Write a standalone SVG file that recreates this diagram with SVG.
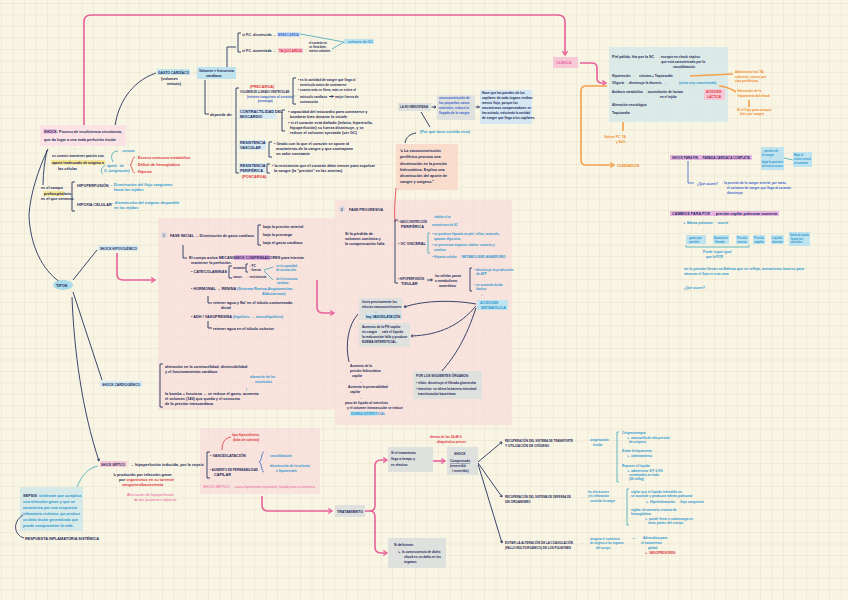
<svg xmlns="http://www.w3.org/2000/svg" width="848" height="600" viewBox="0 0 848 600">
<defs>
<pattern id="grid" width="11.5" height="11.5" patternUnits="userSpaceOnUse" x="2" y="4">
<path d="M11.5 0V11.5M0 11.5H11.5" fill="none" stroke="#e3dbc3" stroke-width="0.8"/>
</pattern>
<marker id="ap" viewBox="0 0 10 10" refX="7" refY="5" markerWidth="4" markerHeight="4" orient="auto"><path d="M1 1L7 5L1 9" fill="none" stroke="#e8609a" stroke-width="2"/></marker>
<marker id="ao" viewBox="0 0 10 10" refX="7" refY="5" markerWidth="4" markerHeight="4" orient="auto"><path d="M1 1L7 5L1 9" fill="none" stroke="#f4a04c" stroke-width="2"/></marker>
<marker id="an" viewBox="0 0 10 10" refX="7" refY="5" markerWidth="4" markerHeight="4" orient="auto"><path d="M1 1L7 5L1 9" fill="none" stroke="#25335f" stroke-width="2"/></marker>
<style>
text{font-family:"Liberation Sans",Arial,sans-serif;font-size:3.8px;font-weight:bold}
.n{fill:#1c2858}
.h{fill:#1c2858;font-size:4px}
.t{fill:#2c96cf}
.b{fill:#3a62c8}
.r{fill:#e0343c}
.p{fill:#e8609a;font-weight:normal}
.o{fill:#f08a24}
.s{font-size:3.2px}
.xs{font-size:2.8px}
.ln{fill:none;stroke:#25335f;stroke-width:0.9}
.lp{fill:none;stroke:#e8609a;stroke-width:1.6}
.lo{fill:none;stroke:#f4a04c;stroke-width:1.6}
.lt{fill:none;stroke:#3fa7b5;stroke-width:0.8}
.lr{fill:none;stroke:#e0343c;stroke-width:0.8}
.lb{fill:none;stroke:#3a62c8;stroke-width:0.8}
.hT{fill:#bfe4ef}
.hP{fill:#f7c9d6}
.hM{fill:#e3a6e0}
.hY{fill:#f5e594}
.gb{fill:#dfe1df}
.pk{fill:#f8dcdb;opacity:0.75}
.pe{fill:#f9dccc}
</style>
</defs>
<rect width="848" height="600" fill="#f9f5e4"/>
<rect width="848" height="600" fill="url(#grid)"/>

<!-- background regions -->
<rect class="pk" x="158" y="218" width="177" height="192"/>
<rect class="pk" x="335" y="200" width="177" height="225"/>
<rect class="pk" x="200" y="428" width="120" height="66"/>
<rect class="pe" x="396" y="144" width="62" height="46"/>
<rect x="609" y="47" width="119" height="75" fill="#d5e8e8" opacity="0.8"/>
<rect x="20" y="487" width="63" height="44" fill="#cfe7ea" opacity="0.85"/>

<g id="connectors">
<path class="lp" d="M84,128 L84,22 Q84,15 91,15 L558,15 Q565,15 565,22 L565,55" marker-end="url(#ap)"/>
<path class="lp" d="M580,63 L592,63 Q597,63 597,68 L597,78 Q597,83 602,83 L606,83" marker-end="url(#ap)"/>
<path class="lo" d="M607,86 L586,86 Q581,86 581,91 L581,160 Q581,165 586,165 L614,165" marker-end="url(#ao)"/>
<path class="lo" d="M623,122 L623,131" stroke-width="0.9"/>
<path class="lo" d="M690,76 L733,74" stroke-width="0.9"/>
<path class="lo" d="M719,86 C728,87 732,89 736,92" stroke-width="0.9"/>
<path class="lo" d="M749,100 L749,107" stroke-width="0.9"/>
<path class="ln" d="M115,126 C118,105 130,82 156,73"/>
<path class="ln" d="M48,149 C38,170 30,195 29,215 C30,245 42,270 60,282"/>
<path class="ln" d="M47,150 C45,160 43,172 43,185"/>
<path class="ln" d="M73,280 L97,250"/>
<path class="ln" d="M73,292 L102,380"/>
<path class="ln" d="M72,297 C74,350 82,410 99,461" marker-end="url(#an)"/>
<path class="lt" d="M77,487 C82,475 88,468 98,466" stroke-width="1"/>
<path class="ln" d="M23,515 C12,522 14,535 24,538"/>
<path class="lp" d="M117,253 L117,274 Q117,280 123,280 L155,280" marker-end="url(#ap)"/>
<path class="lp" d="M317,280 L317,307 Q317,313 323,313 L334,313" marker-end="url(#ap)"/>
<path class="lp" d="M262,496 L262,505 Q262,511 268,511 L332,511" marker-end="url(#ap)"/>
<path class="lp" d="M365,511 L370,511 Q375,511 375,505 L375,466 Q375,460 381,460 L387,460" marker-end="url(#ap)"/>
<path class="lp" d="M370,511 Q375,511 375,517 L375,547 Q375,553 381,553 L387,553" marker-end="url(#ap)"/>
<path class="lp" d="M433,461 L445,461" marker-end="url(#ap)"/>
<path class="ln" d="M478,462 L502,442" marker-end="url(#an)"/>
<path class="ln" d="M478,463 L502,497" marker-end="url(#an)"/>
<path class="ln" d="M478,464 L502,543" marker-end="url(#an)"/>
<path class="ln" d="M476,304 C455,300 425,300 404,307" marker-end="url(#an)"/>
<path class="ln" d="M476,306 C460,325 440,335 411,336" marker-end="url(#an)"/>
<path class="ln" d="M476,308 C466,338 456,355 441,372"/>
<path class="ln" d="M358,314 C348,325 345,345 349,362"/>
<path class="ln" d="M421,112 L430,127"/>
<path class="ln" d="M405,143 C406,137 410,134 416,133"/>
<path class="lr" d="M396,188 C395,200 394,212 395,222"/>
<path class="lt" d="M295,33 L344,42 M332,49 L344,42"/>
<path class="lb" d="M688,161 L688,183 L694,183"/>
<path class="lt" d="M784,158 L793,160"/>
<path class="ln" d="M431.5,107 L436,107" marker-end="url(#an)" stroke-width="0.6"/>
<path class="ln" d="M475.5,107 L479.5,107" marker-end="url(#an)" stroke-width="0.6"/>
<path class="ln" d="M427,280 L432.5,280" marker-end="url(#an)" stroke-width="0.6"/>
<path class="ln" d="M329,96.5 L333.5,96.5" marker-end="url(#an)" stroke-width="0.5"/>
</g>

<g id="shock">
<rect x="40" y="125" width="86" height="21" fill="#fbe2e4"/>
<rect class="hM" x="43" y="129" width="13" height="5" opacity="0.6"/>
<text class="n" x="44" y="133" textLength="78" lengthAdjust="spacingAndGlyphs">SHOCK: Proceso de insuficiencia circulatoria,</text>
<text class="n" x="44" y="141" textLength="72" lengthAdjust="spacingAndGlyphs">que da lugar a una mala perfusión tisular</text>
<text class="n" x="74" y="150">↓</text>
<text class="n" x="52" y="157" textLength="52" lengthAdjust="spacingAndGlyphs">es común mantener patrón con</text>
<rect class="hY" x="51" y="160" width="54" height="5"/>
<text class="n" x="52" y="164" textLength="52" lengthAdjust="spacingAndGlyphs">aporte inadecuado de oxígeno a</text>
<text class="n" x="58" y="170">las células</text>
<text class="t xs" x="120" y="152">↑ consumo</text>
<text class="t s" x="107" y="167">aporte ↓ de</text>
<text class="t s" x="104" y="172">O₂ (oxigenación)</text>
<path class="lt" d="M105,165 C101,168 100,172 103,174 M118,151 C112,151 110,156 113,162"/>
<path class="lr" d="M135,157 C132,157 132,165 130,165 C132,165 132,173 135,173"/>
<text class="r" x="138" y="159">Exceso consumo metabólico</text>
<text class="r" x="138" y="166">Déficit de hemoglobina</text>
<text class="r" x="138" y="173">Hipoxia</text>
</g>

<g id="campo">
<text class="n" x="41" y="189">es el campo</text>
<rect class="hY" x="43" y="191" width="21" height="5"/>
<text class="n" x="44" y="195">prehospitalario</text>
<text class="n" x="41" y="200">es el que veremos</text>
</g>

<g id="hipoperfusion">
<path class="ln" d="M75,182 L72,182 L72,211 L75,211"/>
<text class="n" x="77" y="187">HIPOPERFUSIÓN</text>
<text class="t" x="109" y="186">→ Disminución del flujo sanguíneo</text>
<text class="t" x="114" y="191">hacia los tejidos</text>
<text class="n" x="77" y="206">HIPOXIA CELULAR</text>
<text class="t" x="110" y="204">→ disminución del oxígeno disponible</text>
<text class="t" x="114" y="209">en los tejidos</text>
</g>

<g id="tipos">
<ellipse cx="63" cy="285" rx="10" ry="5" fill="#a9dbeb"/>
<text class="n" x="56" y="287">TIPOS</text>
</g>

<g id="hipovolemico">
<rect x="98" y="245" width="40" height="6" fill="#d7ebf3"/>
<text class="h" x="100" y="250" textLength="37" lengthAdjust="spacingAndGlyphs">SHOCK HIPOVOLÉMICO</text>
</g>

<g id="cardiogenico">
<rect x="100" y="381" width="42" height="6" fill="#d7ebf3"/>
<text class="h" x="102" y="386" textLength="38" lengthAdjust="spacingAndGlyphs">SHOCK CARDIOGÉNICO</text>
<path class="ln" d="M163,364 L160,364 L160,407 L163,407"/>
<text class="n" x="165" y="368">alteración en la contractilidad, distensibilidad</text>
<text class="n" x="165" y="373">y el funcionamiento cardíaco</text>
<text class="t s" x="250" y="378">alteración de los</text>
<text class="t s" x="255" y="383">ventrículos</text>
<text class="t" x="246" y="391">/</text>
<text class="n" x="165" y="395">la bomba + funciona → se reduce el gasto, aumenta</text>
<text class="n" x="165" y="400">el volumen (140) que queda y el consumo</text>
<text class="n" x="165" y="405">de la presión intracardíaca</text>
</g>

<g id="septico">
<rect class="hP" x="100" y="461" width="27" height="6"/>
<text class="h" x="101" y="466" textLength="24" lengthAdjust="spacingAndGlyphs">SHOCK SÉPTICO</text>
<text class="n" x="130" y="466" textLength="74" lengthAdjust="spacingAndGlyphs">→ hipoperfusión inducida, por la sepsis</text>
<text class="n" x="113" y="476">↳ producido por infección grave</text>
<text class="n" x="119" y="481">por <tspan class="r">organismos en su torrente</tspan></text>
<text class="r" x="122" y="486">sanguíneo/bacteriemia</text>
<text class="p" x="131" y="491">↓</text>
<text class="p" x="127" y="496">Afectación de hipoperfusión</text>
<text class="p" x="134" y="501">de los pacientes sépticos</text>
</g>

<g id="sepsis">
<text class="t" x="23" y="497"><tspan class="n">SEPSIS</tspan>: síndrome que complica</text>
<text class="t" x="23" y="503">una infección grave y que se</text>
<text class="t" x="23" y="509">caracteriza por una respuesta</text>
<text class="t" x="23" y="515" textLength="57" lengthAdjust="spacingAndGlyphs">inflamatoria sistémica, que produce</text>
<text class="t" x="23" y="521" textLength="55" lengthAdjust="spacingAndGlyphs">un daño tisular generalizado que</text>
<text class="t" x="23" y="527">puede comprometer la vida.</text>
<text class="n" x="25" y="540">RESPUESTA INFLAMATORIA SISTÉMICA</text>
</g>

<g id="gasto">
<rect class="hT" x="157" y="69" width="33" height="6"/>
<text class="n" x="158" y="74" textLength="31" lengthAdjust="spacingAndGlyphs">GASTO CARDÍACO</text>
<text class="n" x="161" y="80">(volumen</text>
<text class="n" x="167" y="85">minuto)</text>
<text class="n s" x="192" y="74">→</text>
<rect class="hT" x="197" y="67" width="39" height="12"/>
<text class="n" x="199" y="72" textLength="35" lengthAdjust="spacingAndGlyphs">Volumen × frecuencia</text>
<text class="n" x="206" y="77">cardíaca</text>
<path class="ln" d="M227,67 L227,47 L236,47 M241,33 L238,33 L238,52 L241,52"/>
<path class="ln" d="M205,80 L205,114 L209,114"/>
<text class="n" x="242" y="36" textLength="34" lengthAdjust="spacingAndGlyphs">si F.C. disminuida →</text>
<rect x="277" y="32" width="23" height="5" fill="#cfe3f6"/>
<text class="b" x="278" y="36" textLength="21" lengthAdjust="spacingAndGlyphs">BRADICARDIA</text>
<text class="n" x="242" y="52" textLength="34" lengthAdjust="spacingAndGlyphs">si F.C. aumentada →</text>
<rect class="hP" x="278" y="48" width="25" height="5"/>
<text class="r" x="279" y="52" textLength="23" lengthAdjust="spacingAndGlyphs">TAQUICARDIA</text>
<text class="n s" x="304" y="52">→</text>
<text class="n xs" x="309" y="44">el corazón no</text>
<text class="n xs" x="309" y="48">se llena bien,</text>
<text class="n xs" x="309" y="52">menos volumen</text>
<rect class="hT" x="344" y="39" width="30" height="5"/>
<text class="t" x="345" y="43" textLength="28" lengthAdjust="spacingAndGlyphs">↓ volumen de GC</text>
</g>

<g id="depende">
<text class="n" x="210" y="116">depende de:</text>
<path class="ln" d="M239,88 L236,88 L236,173 L239,173"/>
<text class="r" x="250" y="88">(PRECARGA)</text>
<text class="n" x="240" y="93" textLength="50" lengthAdjust="spacingAndGlyphs">VOLUMEN DE LLENADO VENTRICULAR:</text>
<text class="b s" x="247" y="98">(retorno sanguíneo al corazón /</text>
<text class="b s" x="258" y="102">precarga)</text>
<path class="ln" d="M296,78 L293,78 L293,104 L296,104"/>
<text class="n s" x="298" y="80.5">• es la cantidad de sangre que llega al</text>
<text class="n s" x="300" y="85.5">ventrículo antes de contraerse</text>
<text class="n s" x="298" y="91">• cuanto más se llena, más se estira el</text>
<text class="n s" x="300" y="97.5">músculo cardíaco</text>
<text class="n s" x="335" y="97.5">mejor fuerza de</text>
<text class="n s" x="300" y="102.5">contracción</text>
<rect x="239" y="109" width="37" height="10" fill="#d7ebf3"/>
<text class="n" x="240" y="113">CONTRACTILIDAD DEL</text>
<text class="n" x="240" y="118">MIOCARDIO</text>
<path class="ln" d="M285,110 L282,110 L282,131 L285,131"/>
<text class="n" x="288" y="113">• capacidad del miocardio para contraerse y</text>
<text class="n" x="290" y="118">bombear bien durante la sístole</text>
<text class="n" x="288" y="124">• si el corazón está dañado (infarto, hipertrofia,</text>
<text class="n" x="290" y="129">hipoperfusión) su fuerza disminuye, y se</text>
<text class="n" x="290" y="134">reduce el volumen eyectado (ver GC)</text>
<rect x="239" y="140" width="27" height="10" fill="#d7ebf3"/>
<text class="n" x="240" y="144">RESISTENCIA</text>
<text class="n" x="240" y="149">VASCULAR</text>
<path class="ln" d="M272,142 L269,142 L269,157 L272,157"/>
<text class="n" x="274" y="145">• Grado con la que el corazón se opone al</text>
<text class="n" x="276" y="150">movimiento de la sangre y que contrapone</text>
<text class="n" x="276" y="155">un valor constante</text>
<rect x="239" y="163" width="26" height="10" fill="#d7ebf3"/>
<text class="n" x="240" y="167">RESISTENCIA</text>
<text class="n" x="240" y="172">PERIFÉRICA</text>
<text class="r" x="242" y="178">(POSCARGA)</text>
<path class="ln" d="M270,164 L267,164 L267,173 L270,173"/>
<text class="n" x="272" y="167">• la resistencia que el corazón debe vencer para expulsar</text>
<text class="n" x="274" y="172">la sangre (la "presión" en las arterias)</text>
</g>

<g id="hemostasia">
<rect class="gb" x="398" y="103" width="33" height="8"/>
<text class="n" x="400" y="108" textLength="28" lengthAdjust="spacingAndGlyphs">LA NO HEMOSTASIA</text>
<rect class="gb" x="437" y="95" width="38" height="25"/>
<text class="b s" x="439" y="99">vasoconstricción de</text>
<text class="b s" x="439" y="104">los pequeños vasos</text>
<text class="b s" x="439" y="109">arteriales, reduce la</text>
<text class="b s" x="439" y="114">llegada de la sangre</text>
<rect x="480" y="90" width="52" height="34" fill="#d5e7f3"/>
<text class="n s" x="482" y="94">Hace que las paredes de los</text>
<text class="n s" x="482" y="99">capilares de cada órgano reciban</text>
<text class="n s" x="482" y="104">menos flujo, porque los</text>
<text class="n s" x="482" y="109">mecanismos compensadores se</text>
<text class="n s" x="482" y="114" textLength="48" lengthAdjust="spacingAndGlyphs">han activado, reduciendo la cantidad</text>
<text class="n s" x="482" y="119">de sangre que llega a los capilares</text>
<text class="t" x="420" y="133">(Por qué tiene sentido esto)</text>
<text class="n" x="400" y="152">↳ La vasoconstricción</text>
<text class="n" x="400" y="158">periférica provoca una</text>
<text class="n" x="400" y="165">disminución en la presión</text>
<text class="n" x="400" y="171">hidrostática. Explica una</text>
<text class="n" x="400" y="177">disminución del aporte de</text>
<text class="n" x="400" y="183">sangre y oxígeno."</text>
</g>

<g id="fase-inicial">
<circle cx="164" cy="235" r="3" fill="#d6d6dc"/>
<text class="n xs" x="163" y="236.5">1</text>
<text class="n" x="170" y="237" textLength="84" lengthAdjust="spacingAndGlyphs">FASE INICIAL → Disminución de gasto cardíaco</text>
<path class="ln" d="M261,225 L258,225 L258,245 L261,245"/>
<text class="n" x="263" y="228">baja la presión arterial</text>
<text class="n" x="263" y="236">baja la precarga</text>
<text class="n" x="263" y="244">baja el gasto cardíaco</text>
<path class="ln" d="M183,245 L183,258 L187,258"/>
<rect class="hM" x="234" y="255" width="36" height="5"/>
<text class="n" x="189" y="259" textLength="115" lengthAdjust="spacingAndGlyphs">El cuerpo activa MECANISMOS COMPENSADORES para intentar</text>
<text class="n" x="191" y="264">mantener la perfusión.</text>
<text class="n" x="191" y="273" textLength="36" lengthAdjust="spacingAndGlyphs">• CATECOLAMINAS</text>
<path class="ln" d="M232,266 L229,266 L229,278 L232,278"/>
<text class="n s" x="233" y="269">corazón</text>
<path class="ln" d="M248,264 L246,264 L246,272 L248,272"/>
<text class="n s" x="249" y="267">↑ FC</text>
<text class="n s" x="249" y="271">↑ fuerza</text>
<text class="n s" x="233" y="278">vasos → ↑ resistencia</text>
<path class="lt" d="M264,270 L273,267 M264,271 L273,280"/>
<text class="t xs" x="274" y="267">↑ en la capacidad</text>
<text class="t xs" x="276" y="270.5">de contracción</text>
<text class="t xs" x="274" y="280">↑ de la frecuencia</text>
<text class="t xs" x="277" y="284">cardíaca</text>
<text class="n" x="191" y="290">• HORMONAL → RENINA <tspan class="t">(Sistema Renina-Angiotensina-</tspan></text>
<text class="t" x="262" y="295">Aldosterona)</text>
<path class="ln" d="M208,296 L208,303 L212,303"/>
<text class="n" x="213" y="304">retener agua y Na⁺ en el túbulo contorneado</text>
<text class="n" x="221" y="309">distal</text>
<text class="n" x="191" y="318">• ADH / VASOPRESINA <tspan class="t">(hipófisis → neurohipófisis)</tspan></text>
<path class="ln" d="M208,321 L208,328 L212,328"/>
<text class="n" x="213" y="330">retener agua en el túbulo colector</text>
</g>

<g id="fase-progresiva">
<circle cx="342" cy="209" r="3" fill="#d6d6dc"/>
<text class="n xs" x="341" y="210.5">2</text>
<text class="h" x="349" y="211" textLength="34" lengthAdjust="spacingAndGlyphs">FASE PROGRESIVA</text>
<text class="n" x="345" y="235">Si la pérdida de</text>
<text class="n" x="345" y="240">volumen continúa y</text>
<text class="n" x="345" y="245">la compensación falla</text>
<path class="ln" d="M398,220 L395,220 L395,283 L398,283"/>
<text class="n" x="398" y="223" textLength="29" lengthAdjust="spacingAndGlyphs">• VASOCONSTRICCIÓN</text>
<text class="n" x="401" y="228">PERIFÉRICA</text>
<text class="t xs" x="431" y="218">→ debido a los</text>
<text class="t xs" x="432" y="226">mecanismos de SC</text>
<text class="n" x="398" y="245">• VC VISCERAL</text>
<path class="lt" d="M430,233 L428,233 L428,253 L430,253"/>
<text class="t s" x="432" y="235">• se produce hipoxia en piel, riñón, músculo,</text>
<text class="t s" x="434" y="240">aparato digestivo</text>
<text class="t s" x="432" y="246">• se preservan órganos vitales: corazón y</text>
<text class="t s" x="434" y="251">cerebro</text>
<text class="t s" x="432" y="258">• Hipoxia celular → METABOLISMO ANAEROBIO</text>
<text class="n" x="398" y="280" textLength="26" lengthAdjust="spacingAndGlyphs">• HIPOPERFUSIÓN</text>
<text class="n" x="401" y="285">TISULAR</text>
<text class="n s" x="435" y="277">las células pasan</text>
<text class="n s" x="435" y="282">a metabolismo</text>
<text class="n s" x="439" y="287">anaeróbico</text>
<path class="ln" d="M472,268 L470,268 L470,291 L472,291"/>
<text class="t s" x="474" y="271">• disminuye la producción</text>
<text class="t s" x="476" y="275">de ATP</text>
<text class="t s" x="474" y="286">• se acumula ácido</text>
<text class="t s" x="476" y="290">láctico</text>
<text class="n" x="481" y="296">↓</text>
<rect class="hT" x="477" y="300" width="31" height="10"/>
<text class="t" x="480" y="304">ACIDOSIS</text>
<text class="t" x="481" y="309">METABÓLICA</text>
</g>

<g id="vasodilatacion">
<rect class="gb" x="359" y="298" width="43" height="22"/>
<text class="n s" x="362" y="303">Inicia precisamente los</text>
<text class="n s" x="362" y="308">efectos vasoconstrictores</text>
<text class="n s" x="375" y="313">↓</text>
<rect class="hT" x="365" y="314" width="32" height="5"/>
<text class="n s" x="366" y="318">hay VASODILATACIÓN</text>
</g>

<g id="edema">
<rect class="gb" x="359" y="323" width="51" height="24"/>
<text class="n s" x="362" y="328">Aumento de la PH capilar</text>
<text class="n s" x="362" y="333">en sangre → sale el líquido</text>
<text class="n s" x="362" y="338">la reabsorción falla y produce</text>
<text class="n s" x="362" y="343">EDEMA INTERSTICIAL</text>
</g>

<g id="presion">
<text class="n s" x="350" y="367">Aumento de la</text>
<text class="n s" x="350" y="372">presión hidrostática</text>
<text class="n s" x="352" y="377">capilar</text>
<text class="n s" x="360" y="383">↓</text>
<text class="n s" x="348" y="388">Aumenta la permeabilidad</text>
<text class="n s" x="350" y="393">capilar</text>
<text class="n s" x="360" y="399">↓</text>
<text class="n s" x="345" y="404">paso de líquido al intersticio</text>
<text class="n s" x="347" y="409">y el volumen intravascular se reduce</text>
<rect class="hT" x="350" y="411" width="27" height="5"/>
<text class="t s" x="351" y="415">EDEMA INTERSTICIAL</text>
</g>

<g id="organos">
<rect class="gb" x="413" y="371" width="69" height="28"/>
<text class="n s" x="416" y="377">POR LOS SIGUIENTES ÓRGANOS:</text>
<text class="n s" x="416" y="384">• riñón: disminuye el filtrado glomerular</text>
<text class="n s" x="416" y="390">• intestino: se altera la barrera intestinal →</text>
<text class="n s" x="418" y="395">translocación bacteriana</text>
</g>

<g id="hipovolemia-box">
<path class="lr" d="M222,450 C222,442 225,438 231,437"/>
<text class="r s" x="232" y="436">tipo hipovolémico</text>
<text class="r s" x="233" y="441">(falta de volemia)</text>
<path class="ln" d="M210,452 L207,452 L207,478 L210,478"/>
<text class="n" x="210" y="457">• VASODILATACIÓN</text>
<text class="n" x="210" y="471" textLength="48" lengthAdjust="spacingAndGlyphs">• AUMENTO DE PERMEABILIDAD</text>
<text class="n" x="214" y="476">CAPILAR</text>
<path class="lb" d="M264,452 C261,452 262,462 259,462 C262,462 261,472 264,472"/>
<text class="t s" x="270" y="457">vasodilatación</text>
<text class="t s" x="270" y="467">disminución de la volemia</text>
<text class="t s" x="276" y="472">e hipotensión</text>
<text class="p" x="203" y="488" textLength="112" lengthAdjust="spacingAndGlyphs" style="font-size:3.2px">SHOCK SÉPTICO → causa hipotensión importante, líquido pasa al intersticio</text>
</g>

<g id="tratamiento">
<rect class="gb" x="335" y="505" width="30" height="12"/>
<text class="n s" x="337" y="512.5" textLength="26" lengthAdjust="spacingAndGlyphs">TRATAMIENTO</text>
</g>

<g id="a-tiempo">
<rect class="gb" x="388" y="447" width="45" height="25"/>
<text class="n s" x="391" y="454">Si el tratamiento</text>
<text class="n s" x="391" y="460">llega a tiempo y</text>
<text class="n s" x="391" y="466">es efectivo</text>
<text class="r s" x="430" y="438">dentro de las 24-48 h</text>
<text class="r s" x="433" y="443">→ diagnóstico precoz</text>
</g>

<g id="deficiente">
<rect class="gb" x="388" y="538" width="58" height="30"/>
<text class="n s" x="394" y="546">Si deficiente:</text>
<text class="n s" x="398" y="553">↳ la consecuencia de dicho</text>
<text class="n s" x="404" y="558">shock es un daño en los</text>
<text class="n s" x="404" y="563">órganos</text>
</g>

<g id="compensado">
<rect class="gb" x="447" y="447" width="31" height="28"/>
<text class="n s" x="454" y="455">SHOCK</text>
<text class="n s" x="450" y="462" text-decoration="underline">Compensado</text>
<text class="n s" x="450" y="467">(reversible</text>
<text class="n s" x="452" y="472">/ revertido)</text>
</g>

<g id="recuperacion-o2">
<text class="n s" x="505" y="442" textLength="68" lengthAdjust="spacingAndGlyphs">RECUPERACIÓN DEL SISTEMA DE TRANSPORTE</text>
<text class="n s" x="505" y="447">Y UTILIZACIÓN DE OXÍGENO</text>
<text class="n s" x="580" y="443">→</text>
<text class="t s" x="590" y="441">oxigenación</text>
<text class="t s" x="593" y="446">tisular</text>
</g>

<g id="recuperacion-defensa">
<text class="n s" x="505" y="498" textLength="66" lengthAdjust="spacingAndGlyphs">RECUPERACIÓN DEL SISTEMA DE DEFENSA DE</text>
<text class="n s" x="505" y="503">UN ORGANISMO</text>
<text class="n s" x="580" y="498">→</text>
<text class="t xs" x="588" y="493">las alteraciones</text>
<text class="t xs" x="588" y="497">y la inflamación</text>
<text class="t xs" x="590" y="501.5">controlar la sangre</text>
</g>

<g id="evitar">
<text class="n s" x="505" y="544" textLength="68" lengthAdjust="spacingAndGlyphs">EVITAR LA ALTERACIÓN DE LA COAGULACIÓN</text>
<text class="n s" x="505" y="549" textLength="66" lengthAdjust="spacingAndGlyphs">(FALLO MULTIORGÁNICO) DE LOS PULMONES</text>
<text class="n s" x="580" y="544">→</text>
<text class="t xs" x="590" y="540">asegurar el suministro</text>
<text class="t xs" x="590" y="544">de oxígeno a los órganos</text>
<text class="t xs" x="596" y="548.5">del cuerpo</text>
</g>

<g id="cuidados-tratamiento">
<path class="lt" d="M619,432 L617,432 L617,482 L619,482" stroke="#2c96cf"/>
<text class="t s" x="622" y="434">Oxigenoterapia:</text>
<text class="t s" x="627" y="439">↳ mascarilla de alta presión</text>
<text class="t s" x="629" y="443">de oxígeno</text>
<text class="t s" x="622" y="452">Evitar la hipotermia</text>
<text class="t s" x="627" y="457">↳ calentamiento</text>
<text class="t s" x="622" y="467">Reponer el líquido</text>
<text class="t s" x="627" y="472">↳ administrar S.F. 0,9%</text>
<text class="t s" x="629" y="476">cristaloides en bolo</text>
<text class="t s" x="629" y="480">(20 ml/kg)</text>
<path class="lt" d="M629,489 L627,489 L627,525 L629,525" stroke="#2c96cf"/>
<text class="t s" x="631" y="493">vigilar que el líquido infundido no</text>
<text class="t s" x="631" y="497">se acumule y produzca edema pulmonar</text>
<text class="t s" x="646" y="503">↳ Hiperhidratación → flujo sanguíneo</text>
<text class="t s" x="631" y="511">vigilar, al contrario, exceso de</text>
<text class="t s" x="631" y="515">hemoglobina</text>
<text class="t s" x="645" y="520">↳ puede llevar a sobrecarga en</text>
<text class="t s" x="648" y="524">otras partes del cuerpo</text>
<text class="t s" x="632" y="539">—</text>
<text class="t s" x="643" y="539">Adrenalina para</text>
<text class="t s" x="641" y="544">el tratamiento</text>
<text class="t s" x="648" y="549">global</text>
<text class="r s" x="645" y="554">↳ VASOPRESORES</text>
</g>

<g id="clinica">
<rect class="hP" x="553" y="57" width="25" height="11"/>
<text class="p" x="556" y="64" style="font-weight:bold">CLÍNICA</text>
</g>

<g id="cuidados">
<text class="o" x="617" y="167" style="font-size:4.2px">CUIDADOS</text>
<text class="o s" x="604" y="138">Valorar FC, TA</text>
<text class="o s" x="616" y="143">y SaO₂</text>
</g>

<g id="signos">
<text class="n s" x="612" y="58" textLength="42" lengthAdjust="spacingAndGlyphs">Piel pálida, fría por la SC</text>
<text class="n s" x="657" y="58">→ excepto en shock séptico</text>
<text class="n s" x="661" y="63">que está caracterizado por la</text>
<text class="n s" x="673" y="68">vasodilatación</text>
<text class="n s" x="612" y="77">Hipotensión →</text>
<text class="n s" x="639" y="77">síntoma + Taquicardia</text>
<text class="n s" x="612" y="84">Oliguria → disminuye la diuresis →</text>
<text class="t s" x="679" y="84">(orina muy concentrada)</text>
<text class="n s" x="612" y="93">Acidosis metabólica → acumulación de lactato</text>
<text class="n s" x="660" y="98">en el tejido</text>
<rect class="hP" x="704" y="89" width="21" height="11"/>
<text class="r s" x="706" y="93">ACIDOSIS</text>
<text class="r s" x="707" y="98">LÁCTICA</text>
<text class="n s" x="612" y="106">Alteración neurológica</text>
<text class="n s" x="612" y="114">Taquicardia</text>
<text class="o s" x="735" y="73">Administrar los TA ↑</text>
<text class="o s" x="735" y="78">volumen, sueros por</text>
<text class="o s" x="735" y="82">vías periféricas</text>
<text class="o s" x="737" y="92">Valoración de la</text>
<text class="o s" x="738" y="97">hipotermia del shock</text>
<text class="o s" x="737" y="111">Si el flujo pasa aunque</text>
<text class="o s" x="740" y="115">bien por sangre</text>
</g>

<g id="parada">
<rect class="hM" x="670" y="155" width="82" height="5" opacity="0.8"/>
<text class="n s" x="672" y="159" textLength="78" lengthAdjust="spacingAndGlyphs">SHOCK PARA FIN → PARADA CARDIACA COMPLETA</text>
<text class="b s" x="697" y="185">¿Qué ocurre?</text>
<text class="b s" x="720" y="184">→ la presión de la sangre arterial, por tanto,</text>
<text class="b s" x="727" y="189">el volumen de sangre que llega al corazón</text>
<text class="b s" x="727" y="194">disminuye</text>
<rect class="hT" x="761" y="147" width="23" height="23"/>
<text class="t xs" x="762" y="152">↑ presión de</text>
<text class="t xs" x="762" y="155.5">la sangre</text>
<text class="t xs" x="770" y="159">↓</text>
<text class="t xs" x="762" y="163" textLength="21" lengthAdjust="spacingAndGlyphs">baja la presión</text>
<text class="t xs" x="762" y="166.5" textLength="21" lengthAdjust="spacingAndGlyphs">del retorno venoso</text>
<rect class="hT" x="793" y="152" width="19" height="15"/>
<text class="t xs" x="794" y="156">Baja el</text>
<text class="t xs" x="794" y="160" textLength="17" lengthAdjust="spacingAndGlyphs">retorno venoso</text>
<text class="t xs" x="794" y="164">al corazón</text>
</g>

<g id="cambios">
<rect class="hM" x="670" y="211" width="109" height="5" opacity="0.8"/>
<text class="n s" x="672" y="215" textLength="105" lengthAdjust="spacingAndGlyphs">CAMBIOS PARA PCR → presión capilar pulmonar aumenta</text>
<text class="t s" x="683" y="224">↳ Edema pulmonar → muerte</text>
<rect class="hT" x="686" y="235" width="20" height="9"/>
<text class="t xs" x="687" y="239">↓ gasto por</text>
<text class="t xs" x="687" y="242.5">↑ presión</text>
<text class="t xs" x="708" y="241">→</text>
<rect class="hT" x="713" y="235" width="16" height="9"/>
<text class="t xs" x="714" y="239" textLength="14" lengthAdjust="spacingAndGlyphs">Aumenta el</text>
<text class="t xs" x="715" y="242.5">llenado</text>
<text class="t xs" x="731" y="241">→</text>
<rect class="hT" x="736" y="235" width="13" height="9"/>
<text class="t xs" x="737" y="239">Presión</text>
<text class="t xs" x="737" y="242.5">venosa</text>
<text class="t xs" x="750" y="241">→</text>
<rect class="hT" x="753" y="235" width="12" height="9"/>
<text class="t xs" x="754" y="239" textLength="10" lengthAdjust="spacingAndGlyphs">Presión</text>
<text class="t xs" x="754" y="242.5" textLength="10" lengthAdjust="spacingAndGlyphs">capilar</text>
<text class="t xs" x="766" y="241">→</text>
<rect class="hT" x="771" y="235" width="13" height="9"/>
<text class="t xs" x="772" y="239">Líquido</text>
<text class="t xs" x="772" y="242.5" textLength="11" lengthAdjust="spacingAndGlyphs">alveolar</text>
<text class="t xs" x="785" y="241">→</text>
<rect class="hT" x="789" y="232" width="21" height="14"/>
<text class="t xs" x="790" y="236" textLength="19" lengthAdjust="spacingAndGlyphs">Salida de líquido</text>
<text class="t xs" x="791" y="239.5">hacia los</text>
<text class="t xs" x="791" y="243">alvéolos</text>
<path class="lt" d="M686,245 L686,247 L749,247 L749,245" stroke="#2c96cf"/>
<text class="t s" x="703" y="253">Puede seguir igual</text>
<text class="t s" x="706" y="258">que la PCR</text>
<text class="t s" x="684" y="270" textLength="120" lengthAdjust="spacingAndGlyphs">en la presión llevan un Edema que se refleja, mecanismo inverso para</text>
<text class="t s" x="684" y="275">observar el flujo en esta zona</text>
<text class="t s" x="684" y="289">¿Qué ocurre?</text>
</g>
</svg>
